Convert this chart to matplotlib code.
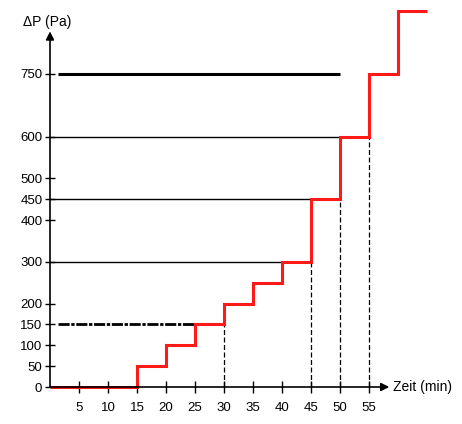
import matplotlib.pyplot as plt

# step profile of the pressure difference
time_edges = [0, 15, 20, 25, 30, 35, 40, 45, 50, 55, 60, 65]
pressure = [0, 50, 100, 150, 200, 250, 300, 450, 600, 750, 900]

# horizontal reference lines and where they end
ref_levels = [150, 300, 450, 600, 750]
ref_ends = [30, 45, 50, 55, 50]

# vertical dashed drop lines
drop_times = [30, 45, 50, 55]
drop_levels = [150, 300, 450, 600]

xticks = [5, 10, 15, 20, 25, 30, 35, 40, 45, 50, 55]
yticks = [0, 50, 100, 150, 200, 300, 400, 450, 500, 600, 750]

plt.rcParams['font.family'] = ['Liberation Sans', 'DejaVu Sans']

fig = plt.figure(figsize=(4.62, 4.24), dpi=100)
ax = fig.add_axes([50 / 462, 37 / 424, 377 / 462, 384 / 424])
ax.set_xlim(0, 65)
ax.set_ylim(0, 920)

for s in ax.spines.values():
    s.set_visible(False)

# reference lines
for lev, end in zip(ref_levels, ref_ends):
    if lev == 750:
        ax.plot([1.4, end], [lev, lev], color='black', lw=2.2, solid_capstyle='butt')
    elif lev == 150:
        ax.plot([1.4, end], [lev, lev], color='black', lw=2,
                linestyle=(0, (4, 0.6, 1.2, 0.6)))
    else:
        ax.plot([0, end], [lev, lev], color='black', lw=1)

for t, lev in zip(drop_times, drop_levels):
    ax.plot([t, t], [0, lev], color='black', lw=0.9, linestyle=(0, (4, 2)))

ax.stairs(pressure, time_edges, color='#ff1a1a', lw=2.2, baseline=None,
          clip_on=False, zorder=3)

# axes with arrows
ax.annotate('', xy=(58.5, 0), xytext=(0, 0),
            arrowprops=dict(arrowstyle='-|>', color='black', lw=1.2,
                            mutation_scale=12, shrinkA=0, shrinkB=0))
ax.annotate('', xy=(0, 852), xytext=(0, 0),
            arrowprops=dict(arrowstyle='-|>', color='black', lw=1.2,
                            mutation_scale=12, shrinkA=0, shrinkB=0))

ax.set_xticks(xticks)
ax.set_xticklabels([str(v) for v in xticks])
ax.set_yticks(yticks)
ax.set_yticklabels([str(v) for v in yticks])
ax.tick_params(axis='x', direction='inout', length=9, width=1, pad=6, labelsize=9.5)
ax.tick_params(axis='y', direction='inout', length=7, width=1, pad=2, labelsize=9.5)

ax.text(-0.5, 875, 'ΔP (Pa)', ha='center', va='center', fontsize=10)
ax.text(59.2, 0, 'Zeit (min)', ha='left', va='center', fontsize=10, clip_on=False)

fig.savefig('out.png', dpi=100)
